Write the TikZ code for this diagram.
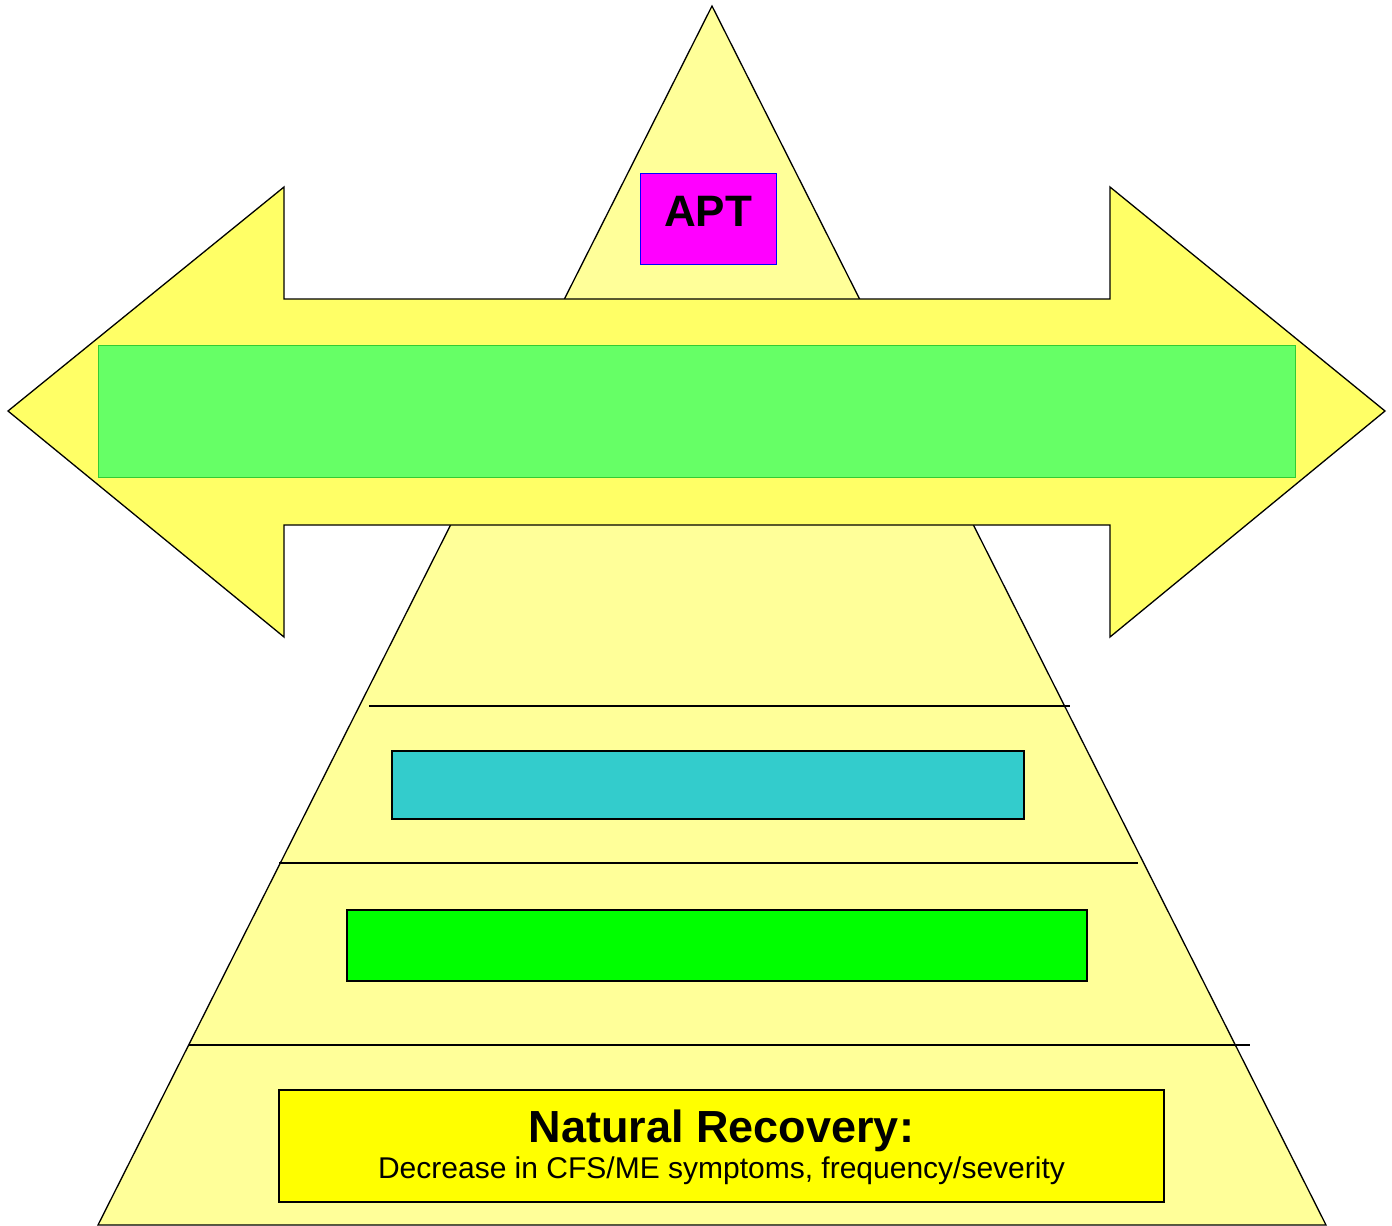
\documentclass[tikz,border=0pt]{standalone}
\usepackage{fontspec}
\setmainfont{Liberation Sans}
\definecolor{pyrfill}{HTML}{FFFF99}
\definecolor{arrfill}{HTML}{FFFF66}
\definecolor{bandfill}{HTML}{66FF66}
\definecolor{banddraw}{HTML}{33CC33}
\definecolor{cyanfill}{HTML}{33CCCC}
\definecolor{greenfill}{HTML}{00FF00}
\definecolor{aptfill}{HTML}{FF00FF}
\definecolor{basefill}{HTML}{FFFF00}

\begin{document}
\begin{tikzpicture}[x=1pt,y=-1pt,line join=miter,
  outline/.style={draw=black,line width=1.3pt},
  box/.style={draw=black,line width=1.3pt,inner sep=0pt}]
  \useasboundingbox (0,0) rectangle (1392,1226);
  % pyramid
  \coordinate (apex) at (712,6);
  \coordinate (bl) at (98,1225);
  \coordinate (br) at (1326,1225);
  \draw[outline,fill=pyrfill] (apex) -- (br) -- (bl) -- cycle;
  % double arrow
  \draw[outline,fill=arrfill] (8,411) -- (284,187) -- (284,299) -- (1110,299) -- (1110,187)
    -- (1385,411) -- (1110,637) -- (1110,525) -- (284,525) -- (284,637) -- cycle;
  \node[box,draw=banddraw,line width=1pt,fill=bandfill,minimum width=1197pt,minimum height=132pt] (band) at (696.5,411) {};
  %
  \node[box,draw=blue,line width=1pt,fill=aptfill,minimum width=136pt,minimum height=91pt,
    font=\fontsize{44}{48}\selectfont\bfseries,text depth=14pt] (apt) at (708,218.5) {APT};
  %
  \draw[line width=1.2pt] (369,706) -- (1070,706);
  \draw[line width=1.2pt] (279,863) -- (1138,863);
  \draw[line width=1.2pt] (189,1045) -- (1250,1045);
  %
  \node[box,fill=cyanfill,minimum width=632pt,minimum height=68pt] (level3) at (708,785) {};
  \node[box,fill=greenfill,minimum width=740pt,minimum height=71pt] (level2) at (717,945.5) {};
  \node[box,fill=basefill,minimum width=885pt,minimum height=112pt] (level1) at (721.5,1146) {};
  \node[align=center,font=\fontsize{30}{36}\selectfont,inner sep=0pt,anchor=base] (level1text) at (721.5,1178)
    {{\fontsize{45}{36}\selectfont\bfseries Natural Recovery:}\\
     Decrease in CFS/ME symptoms, frequency/severity};
\end{tikzpicture}
\end{document}
